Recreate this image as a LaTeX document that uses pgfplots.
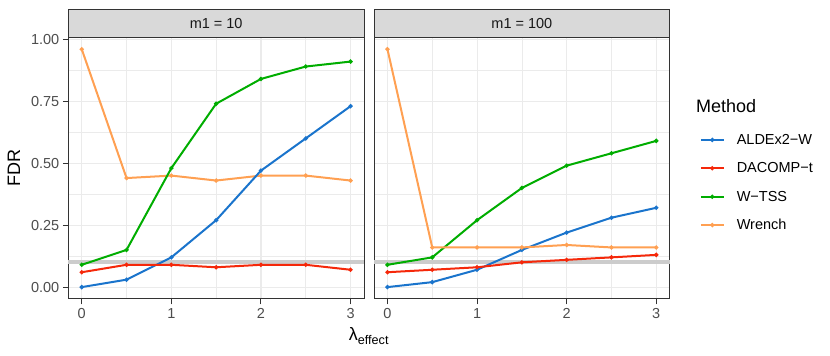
\documentclass[border=0pt]{standalone}
\usepackage{fontspec}
\setmainfont{Liberation Sans}
\usepackage{pgfplots}
\pgfplotsset{compat=1.18}
\definecolor{cBlue}{HTML}{1A74CC}
\definecolor{cRed}{HTML}{F5280A}
\definecolor{cGreen}{HTML}{00AD00}
\definecolor{cOrange}{HTML}{FFA052}
\definecolor{gTwenty}{HTML}{333333}
\definecolor{gThirty}{HTML}{4D4D4D}
\definecolor{gridMaj}{HTML}{EBEBEB}
\definecolor{stripFill}{HTML}{D9D9D9}
\definecolor{refLine}{HTML}{CCCCCC}
\pgfplotsset{
  panel/.style={
    scale only axis, width=295.7pt, height=261.7pt,
    xmin=-0.15, xmax=3.15, ymin=-0.048, ymax=1.008,
    xtick={0,1,2,3}, ytick={0,0.25,0.5,0.75,1},
    minor xtick={0.5,1.5,2.5}, minor ytick={0.125,0.375,0.625,0.875},
    grid=both,
    major grid style={color=gridMaj, line width=1.1pt},
    minor grid style={color=gridMaj, line width=0.55pt},
    axis line style={color=gTwenty, line width=1pt},
    tick align=outside, major tick length=5.5pt, minor tick length=0pt,
    tick style={color=gTwenty, line width=1pt},
    xtick pos=bottom, ytick pos=left,
    ticklabel style={font=\fontsize{14.5}{16}\selectfont, text=gThirty},
    /pgf/number format/assume math mode=true,
    clip=false,
    every axis plot/.append style={line width=2pt, mark=*, mark size=1pt},
  },
}
\begin{document}
\begin{tikzpicture}
\useasboundingbox (0,0) rectangle (830pt,356pt);
% left panel
\begin{axis}[panel, at={(68.3pt,57pt)}, anchor=south west,
  yticklabel style={/pgf/number format/fixed, /pgf/number format/fixed zerofill, /pgf/number format/precision=2},
  ylabel={FDR}, ylabel style={font=\fontsize{18}{20}\selectfont, at={(axis description cs:-0.184,0.5)}, anchor=center, rotate=0}]
\addplot[refLine, line width=4.3pt, mark=none] coordinates {(-0.15,0.1) (3.15,0.1)};
\addplot[cOrange] coordinates {(0,0.96) (0.5,0.44) (1,0.45) (1.5,0.43) (2,0.45) (2.5,0.45) (3,0.43)};
\addplot[cGreen] coordinates {(0,0.09) (0.5,0.15) (1,0.48) (1.5,0.74) (2,0.84) (2.5,0.89) (3,0.91)};
\addplot[cBlue] coordinates {(0,0.00) (0.5,0.03) (1,0.12) (1.5,0.27) (2,0.47) (2.5,0.60) (3,0.73)};
\addplot[cRed] coordinates {(0,0.06) (0.5,0.09) (1,0.09) (1.5,0.08) (2,0.09) (2.5,0.09) (3,0.07)};
\draw[gTwenty, line width=1pt, fill=stripFill] (rel axis cs:0,1) rectangle ([yshift=28pt]rel axis cs:1,1);
\node[font=\fontsize{14.5}{16}\selectfont, text=black!90] at ([yshift=14pt]rel axis cs:0.5,1) {m1 = 10};
\end{axis}
% right panel
\begin{axis}[panel, at={(374pt,57pt)}, anchor=south west, yticklabels={},
  ytick style={draw=none},
  legend style={at={(axis description cs:1.101,0.663)}, anchor=north west, draw=none, fill=none,
    inner sep=0pt, row sep=0pt, column sep=0pt,
    nodes={inner sep=0pt, minimum height=28.4pt, font=\fontsize{14.5}{16}\selectfont, text=black}},
  legend cell align=left,
  legend image code/.code={\draw[#1, mark=none] (0pt,0pt) -- (23pt,0pt); \draw[#1] plot coordinates {(11.5pt,0pt)}; \path (35pt,0pt);}]
\addplot[refLine, line width=4.3pt, mark=none, forget plot] coordinates {(-0.15,0.1) (3.15,0.1)};
\addplot[cBlue] coordinates {(0,0.00) (0.5,0.02) (1,0.07) (1.5,0.15) (2,0.22) (2.5,0.28) (3,0.32)};
\addlegendentry{ALDEx2−W}
\addplot[cRed] coordinates {(0,0.06) (0.5,0.07) (1,0.08) (1.5,0.10) (2,0.11) (2.5,0.12) (3,0.13)};
\addlegendentry{DACOMP−t}
\addplot[cGreen] coordinates {(0,0.09) (0.5,0.12) (1,0.27) (1.5,0.40) (2,0.49) (2.5,0.54) (3,0.59)};
\addlegendentry{W−TSS}
\addplot[cOrange] coordinates {(0,0.96) (0.5,0.16) (1,0.16) (1.5,0.16) (2,0.17) (2.5,0.16) (3,0.16)};
\addlegendentry{Wrench}
\draw[gTwenty, line width=1pt, fill=stripFill] (rel axis cs:0,1) rectangle ([yshift=28pt]rel axis cs:1,1);
\node[font=\fontsize{14.5}{16}\selectfont, text=black!90] at ([yshift=14pt]rel axis cs:0.5,1) {m1 = 100};
\end{axis}
\node[anchor=west, font=\fontsize{18}{20}\selectfont, inner sep=0pt] at (696pt,250pt) {Method};
\node[font=\fontsize{18}{20}\selectfont, inner sep=0pt] at (369pt,20pt) {λ\textsubscript{effect}};
\end{tikzpicture}
\end{document}
